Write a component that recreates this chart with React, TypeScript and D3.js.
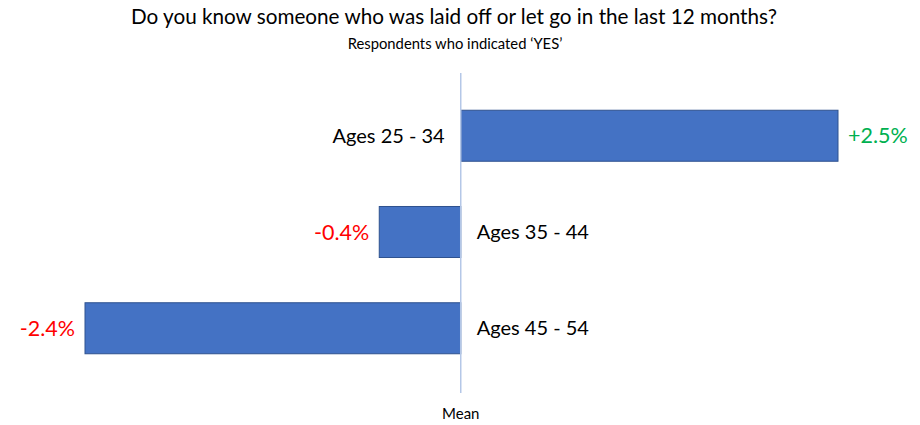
import React from "react";
import * as d3 from "d3";

const categories = ["Ages 25 - 34", "Ages 35 - 44", "Ages 45 - 54"];
const values = [2.5, -0.54, -2.49];
const valueLabels = ["+2.5%", "-0.4%", "-2.4%"];
const title = "Do you know someone who was laid off or let go in the last 12 months?";
const subtitle = "Respondents who indicated \u2018YES\u2019";
const meanLabel = "Mean";

const W = 920;
const H = 425;
const FONT = "Lato, 'Open Sans', sans-serif";

export default function App() {
  const x = d3
    .scaleLinear()
    .domain([d3.min(values) as number, d3.max(values) as number])
    .range([85, 838]);
  const y = d3
    .scaleBand<string>()
    .domain(categories)
    .range([65, 399])
    .paddingInner(0.47)
    .paddingOuter(0.47);
  const x0 = x(0);

  return (
    <svg
      width={W}
      height={H}
      style={{ position: "absolute", left: 0, top: 0, background: "#fff" }}
      fontFamily={FONT}
    >
      <text x={454} y={24} textAnchor="middle" fontSize={20.7} fill="#000">
        {title}
      </text>
      <text x={455} y={49} textAnchor="middle" fontSize={14.8} fill="#000">
        {subtitle}
      </text>
      {categories.map((c, i) => {
        const v = values[i];
        const y0 = y(c) as number;
        const bw = y.bandwidth();
        const cy = y0 + bw / 2;
        const left = Math.min(x(v), x0);
        const right = Math.max(x(v), x0);
        return (
          <g key={c}>
            <rect
              x={left}
              y={y0}
              width={right - left}
              height={bw}
              fill="#4472c4"
              stroke="#2f528f"
              strokeWidth={1}
            />
            <text
              x={v >= 0 ? x0 - 16 : x0 + 16}
              y={cy}
              dy="0.35em"
              textAnchor={v >= 0 ? "end" : "start"}
              fontSize={20}
              fill="#000"
            >
              {c}
            </text>
            <text
              x={v >= 0 ? x(v) + 10 : x(v) - 10}
              y={cy}
              dy="0.35em"
              textAnchor={v >= 0 ? "start" : "end"}
              fontSize={21.5}
              fill={v >= 0 ? "#00b050" : "#ff0000"}
            >
              {valueLabels[i]}
            </text>
          </g>
        );
      })}
      <line x1={x0} x2={x0} y1={73} y2={393} stroke="#b4c7e7" strokeWidth={1.5} />
      <text x={x0} y={419} textAnchor="middle" fontSize={15} fill="#000">
        {meanLabel}
      </text>
    </svg>
  );
}
